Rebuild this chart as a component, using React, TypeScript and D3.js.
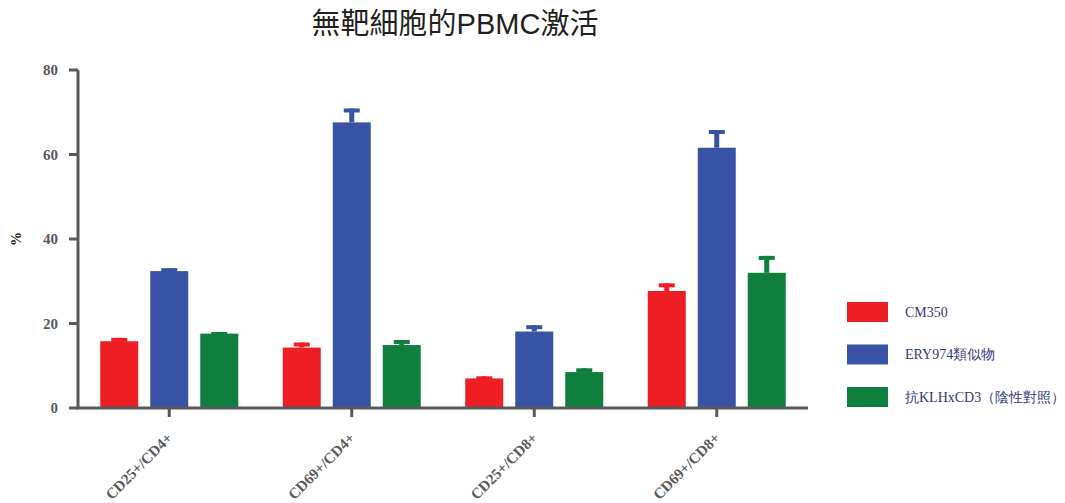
import { useMemo } from "react";
import * as d3 from "d3";

const WIDTH = 1065;
const HEIGHT = 503;
const MARGIN = { top: 70, right: 257, bottom: 95, left: 78 };

const TITLE = "無靶細胞的PBMC激活";
const Y_LABEL = "%";
const CATEGORIES = ["CD25+/CD4+", "CD69+/CD4+", "CD25+/CD8+", "CD69+/CD8+"];
const SERIES = ["CM350", "ERY974類似物", "抗KLHxCD3（陰性對照）"];
const COLORS = ["#ED1F24", "#3953A4", "#0F7F40"];

// mean values per series, in category order
const CM350 = [15.8, 14.3, 7.0, 27.7];
const ERY974 = [32.4, 67.6, 18.1, 61.6];
const KLH = [17.6, 14.9, 8.5, 32.0];
// error (SEM) per series
const CM350_ERR = [0.8, 1.2, 0.5, 1.8];
const ERY974_ERR = [0.7, 3.3, 1.5, 4.2];
const KLH_ERR = [0.4, 1.2, 0.9, 4.0];

const Y_TICKS = [0, 20, 40, 60, 80];

const AXIS = "#58595B";
const SERIF = "'Liberation Serif', 'DejaVu Serif', serif";

export default function App() {
  const boundsWidth = WIDTH - MARGIN.left - MARGIN.right;
  const boundsHeight = HEIGHT - MARGIN.top - MARGIN.bottom;

  const values = [CM350, ERY974, KLH];
  const errors = [CM350_ERR, ERY974_ERR, KLH_ERR];

  const xScale = useMemo(
    () => d3.scaleBand().domain(CATEGORIES).range([0, boundsWidth]),
    [boundsWidth]
  );
  const yScale = useMemo(
    () => d3.scaleLinear().domain([0, 80]).range([boundsHeight, 0]),
    [boundsHeight]
  );

  const barWidth = 38;
  const barStep = 50;

  const bars = CATEGORIES.flatMap((cat, ci) =>
    SERIES.map((s, si) => {
      const cx = (xScale(cat) ?? 0) + xScale.bandwidth() / 2 + (si - 1) * barStep;
      const v = values[si][ci];
      const e = errors[si][ci];
      const top = yScale(v);
      const capY = yScale(v + e);
      return (
        <g key={`${cat}-${s}`}>
          <rect
            x={cx - 2.5}
            y={capY}
            width={5}
            height={top - capY}
            fill={COLORS[si]}
          />
          <rect x={cx - 8} y={capY} width={16} height={4} fill={COLORS[si]} />
          <rect
            x={cx - barWidth / 2}
            y={top}
            width={barWidth}
            height={boundsHeight - top}
            fill={COLORS[si]}
          />
        </g>
      );
    })
  );

  const yTicks = Y_TICKS.map((t) => (
    <g key={t} transform={`translate(0,${yScale(t)})`}>
      <line x1={-9} x2={0} stroke={AXIS} strokeWidth={3} />
      <text
        x={-20}
        dy="0.35em"
        textAnchor="end"
        fontSize={15}
        fontWeight="bold"
        fontFamily={SERIF}
        fill={AXIS}
      >
        {t}
      </text>
    </g>
  ));

  const xTicks = CATEGORIES.map((c) => {
    const cx = (xScale(c) ?? 0) + xScale.bandwidth() / 2;
    return (
      <g key={c} transform={`translate(${cx},${boundsHeight})`}>
        <line y1={0} y2={9} stroke={AXIS} strokeWidth={3} />
        <text
          transform="translate(4,31) rotate(-45)"
          textAnchor="end"
          fontSize={15}
          fontWeight="bold"
          fontFamily={SERIF}
          fill={AXIS}
        >
          {c}
        </text>
      </g>
    );
  });

  const legend = SERIES.map((s, i) => (
    <g key={s} transform={`translate(847,${302 + i * 42.5})`}>
      <rect width={41} height={20} fill={COLORS[i]} />
      <text
        x={58}
        y={10}
        dy="0.35em"
        fontSize={14}
        fontFamily={SERIF}
        fill="#34387A"
      >
        {s}
      </text>
    </g>
  ));

  return (
    <svg
      width={WIDTH}
      height={HEIGHT}
      style={{ position: "absolute", left: 0, top: 0, background: "#fff" }}
    >
      <text
        x={455}
        y={34}
        textAnchor="middle"
        fontSize={29}
        fontFamily="'Liberation Sans', 'Noto Sans CJK TC', sans-serif"
        fill="#231F20"
      >
        {TITLE}
      </text>
      <text
        transform={`translate(21,${MARGIN.top + boundsHeight / 2}) rotate(-90)`}
        textAnchor="middle"
        fontSize={14}
        fontWeight="bold"
        fontFamily={SERIF}
        fill="#231F20"
      >
        {Y_LABEL}
      </text>
      <g transform={`translate(${MARGIN.left},${MARGIN.top})`}>
        {bars}
        <line x1={0} x2={0} y1={0} y2={boundsHeight} stroke={AXIS} strokeWidth={3} />
        <line
          x1={-1.5}
          x2={boundsWidth}
          y1={boundsHeight}
          y2={boundsHeight}
          stroke={AXIS}
          strokeWidth={3}
        />
        {yTicks}
        {xTicks}
      </g>
      {legend}
    </svg>
  );
}
